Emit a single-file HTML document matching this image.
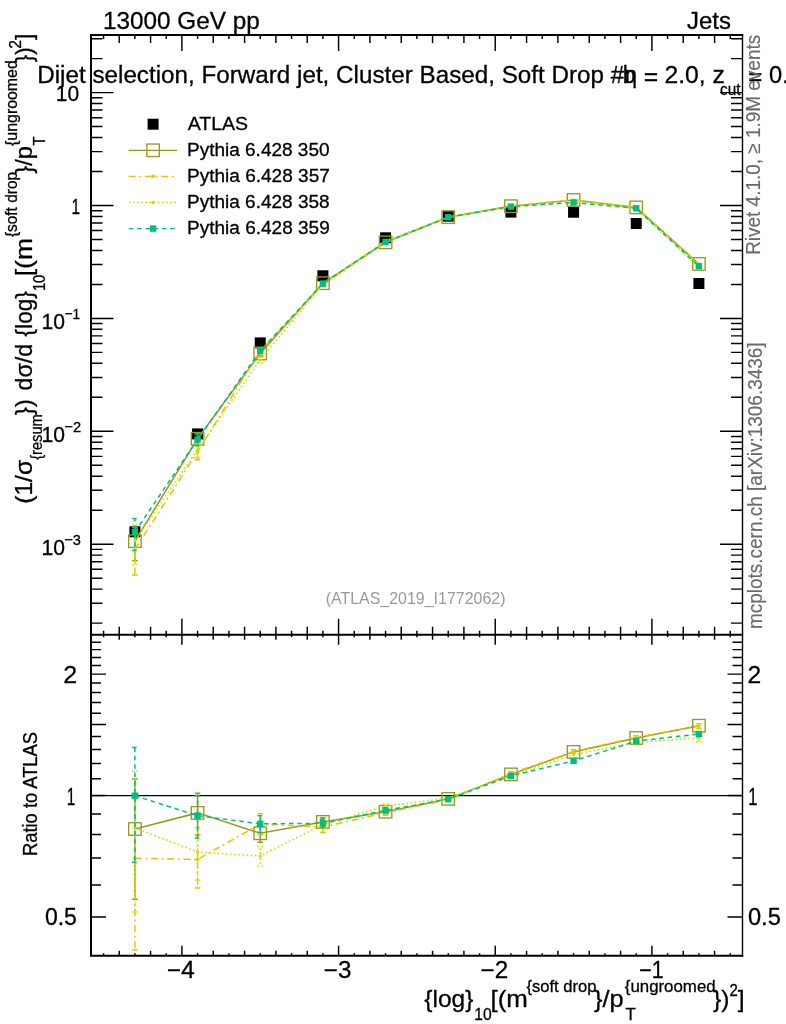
<!DOCTYPE html>
<html lang="en"><head><meta charset="utf-8"><title>ATLAS_2019_I1772062 soft drop</title>
<style>html,body{margin:0;padding:0;background:#fff}body{width:786px;height:1024px;overflow:hidden}svg{display:block}text{font-family:'Liberation Sans',sans-serif;fill:#000;stroke:#000;stroke-width:.3px}.g{fill:#6a6a6a;stroke:#6a6a6a;stroke-width:.15px}.h{fill:#999;stroke:none}</style>
</head><body>
<svg width="786" height="1024" viewBox="0 0 786 1024">
<rect width="786" height="1024" fill="#fff"/>
<defs><clipPath id="cm"><rect x="91.0" y="35.0" width="651.5" height="599.8"/></clipPath><clipPath id="cr"><rect x="91.0" y="634.8" width="651.5" height="320.95"/></clipPath></defs>
<g clip-path="url(#cm)">
<rect x="129.4" y="526.3" width="11.0" height="11.0" fill="#000"/>
<rect x="192.07" y="428.4" width="11.0" height="11.0" fill="#000"/>
<rect x="254.73" y="337.4" width="11.0" height="11.0" fill="#000"/>
<rect x="317.4" y="270.3" width="11.0" height="11.0" fill="#000"/>
<rect x="380.07" y="232.3" width="11.0" height="11.0" fill="#000"/>
<rect x="442.73" y="210.7" width="11.0" height="11.0" fill="#000"/>
<rect x="505.4" y="206.6" width="11.0" height="11.0" fill="#000"/>
<rect x="568.07" y="206.7" width="11.0" height="11.0" fill="#000"/>
<rect x="630.73" y="218" width="11.0" height="11.0" fill="#000"/>
<rect x="693.4" y="278" width="11.0" height="11.0" fill="#000"/>
<g fill="none" stroke="#99991f" stroke-width="1.5">
<path d="M134.9 541.18 L197.57 438.77 L260.23 353.48 L322.9 283.19 L385.57 242.34 L448.23 217.15 L510.9 206.19 L573.57 199.99 L636.23 207.4 L698.9 263.96"/>
<path d="M134.9 539.18L134.9 527.2M134.9 543.18L134.9 560.81"/>
<path d="M197.57 436.77L197.57 433.29M197.57 440.77L197.57 444.94"/>
<path d="M260.23 351.48L260.23 351.11M260.23 355.48L260.23 355.98"/>
<path d="M132.1 527.2h5.6M132.1 560.81h5.6M194.77 433.29h5.6M194.77 444.94h5.6M257.43 351.11h5.6M257.43 355.98h5.6"/>
</g>
<rect x="128.65" y="534.93" width="12.5" height="12.5" fill="none" stroke="#99991f" stroke-width="1.35"/>
<rect x="191.32" y="432.52" width="12.5" height="12.5" fill="none" stroke="#99991f" stroke-width="1.35"/>
<rect x="253.98" y="347.23" width="12.5" height="12.5" fill="none" stroke="#99991f" stroke-width="1.35"/>
<rect x="316.65" y="276.94" width="12.5" height="12.5" fill="none" stroke="#99991f" stroke-width="1.35"/>
<rect x="379.32" y="236.09" width="12.5" height="12.5" fill="none" stroke="#99991f" stroke-width="1.35"/>
<rect x="441.98" y="210.9" width="12.5" height="12.5" fill="none" stroke="#99991f" stroke-width="1.35"/>
<rect x="504.65" y="199.94" width="12.5" height="12.5" fill="none" stroke="#99991f" stroke-width="1.35"/>
<rect x="567.32" y="193.74" width="12.5" height="12.5" fill="none" stroke="#99991f" stroke-width="1.35"/>
<rect x="629.98" y="201.15" width="12.5" height="12.5" fill="none" stroke="#99991f" stroke-width="1.35"/>
<rect x="692.65" y="257.71" width="12.5" height="12.5" fill="none" stroke="#99991f" stroke-width="1.35"/>
<g fill="none" stroke="#e8c400" stroke-width="1.5">
<path d="M134.9 549.38 L197.57 451.82 L260.23 350.88 L322.9 284.62 L385.57 242.64 L448.23 217.43 L510.9 205.91 L573.57 199.88 L636.23 207.23 L698.9 264.1" stroke-dasharray="7 3.6 1.9 3.7"/>
<path d="M134.9 547.38L134.9 532.61M134.9 551.38L134.9 575.08" stroke-dasharray="7 3.6 1.9 3.7"/>
<path d="M197.57 449.82L197.57 444.97M197.57 453.82L197.57 459.78" stroke-dasharray="7 3.6 1.9 3.7"/>
<path d="M260.23 348.88L260.23 348.02M260.23 352.88L260.23 353.91" stroke-dasharray="7 3.6 1.9 3.7"/>
<path d="M132.1 532.61h5.6M132.1 575.08h5.6M194.77 444.97h5.6M194.77 459.78h5.6M257.43 348.02h5.6M257.43 353.91h5.6M320.1 283.12h5.6M320.1 286.17h5.6" stroke-dasharray="7 3.6 1.9 3.7"/>
</g>
<circle cx="134.9" cy="549.38" r="1.7" fill="#e8c400"/>
<circle cx="197.57" cy="451.82" r="1.7" fill="#e8c400"/>
<circle cx="260.23" cy="350.88" r="1.7" fill="#e8c400"/>
<circle cx="322.9" cy="284.62" r="1.7" fill="#e8c400"/>
<circle cx="385.57" cy="242.64" r="1.7" fill="#e8c400"/>
<circle cx="448.23" cy="217.43" r="1.7" fill="#e8c400"/>
<circle cx="510.9" cy="205.91" r="1.7" fill="#e8c400"/>
<circle cx="573.57" cy="199.88" r="1.7" fill="#e8c400"/>
<circle cx="636.23" cy="207.23" r="1.7" fill="#e8c400"/>
<circle cx="698.9" cy="264.1" r="1.7" fill="#e8c400"/>
<g fill="none" stroke="#bfe600" stroke-width="1.5">
<path d="M134.9 540.87 L197.57 449.72 L260.23 359.84 L322.9 283.95 L385.57 240.8 L448.23 216.87 L510.9 206.64 L573.57 200.75 L636.23 208.63 L698.9 267.35" stroke-dasharray="1.7 2.45"/>
<path d="M134.9 538.87L134.9 525.03M134.9 542.87L134.9 564.42" stroke-dasharray="1.7 2.45"/>
<path d="M197.57 447.72L197.57 442.93M197.57 451.72L197.57 457.6" stroke-dasharray="1.7 2.45"/>
<path d="M260.23 357.84L260.23 357.21M260.23 361.84L260.23 362.62" stroke-dasharray="1.7 2.45"/>
<path d="M132.1 525.03h5.6M132.1 564.42h5.6M194.77 442.93h5.6M194.77 457.6h5.6M257.43 357.21h5.6M257.43 362.62h5.6" stroke-dasharray="1.7 2.45"/>
</g>
<circle cx="134.9" cy="540.87" r="1.7" fill="#bfe600"/>
<circle cx="197.57" cy="449.72" r="1.7" fill="#bfe600"/>
<circle cx="260.23" cy="359.84" r="1.7" fill="#bfe600"/>
<circle cx="322.9" cy="283.95" r="1.7" fill="#bfe600"/>
<circle cx="385.57" cy="240.8" r="1.7" fill="#bfe600"/>
<circle cx="448.23" cy="216.87" r="1.7" fill="#bfe600"/>
<circle cx="510.9" cy="206.64" r="1.7" fill="#bfe600"/>
<circle cx="573.57" cy="200.75" r="1.7" fill="#bfe600"/>
<circle cx="636.23" cy="208.63" r="1.7" fill="#bfe600"/>
<circle cx="698.9" cy="267.35" r="1.7" fill="#bfe600"/>
<g fill="none" stroke="#00bf80" stroke-width="1.5">
<path d="M134.9 531.86 L197.57 439.56 L260.23 350.82 L322.9 283.58 L385.57 241.94 L448.23 217.24 L510.9 206.58 L573.57 202.51 L636.23 208.27 L698.9 266.28" stroke-dasharray="4.6 3.7"/>
<path d="M134.9 529.86L134.9 518.38M134.9 533.86L134.9 550.5" stroke-dasharray="4.6 3.7"/>
<path d="M197.57 437.56L197.57 433.99M197.57 441.56L197.57 445.83" stroke-dasharray="4.6 3.7"/>
<path d="M260.23 348.82L260.23 348.57M260.23 352.82L260.23 353.18" stroke-dasharray="4.6 3.7"/>
<path d="M132.1 518.38h5.6M132.1 550.5h5.6M194.77 433.99h5.6M194.77 445.83h5.6M257.43 348.57h5.6M257.43 353.18h5.6" stroke-dasharray="4.6 3.7"/>
</g>
<rect x="131.7" y="528.66" width="6.4" height="6.4" fill="#00bf80"/>
<rect x="194.37" y="436.36" width="6.4" height="6.4" fill="#00bf80"/>
<rect x="257.03" y="347.62" width="6.4" height="6.4" fill="#00bf80"/>
<rect x="319.7" y="280.38" width="6.4" height="6.4" fill="#00bf80"/>
<rect x="382.37" y="238.74" width="6.4" height="6.4" fill="#00bf80"/>
<rect x="445.03" y="214.04" width="6.4" height="6.4" fill="#00bf80"/>
<rect x="507.7" y="203.38" width="6.4" height="6.4" fill="#00bf80"/>
<rect x="570.37" y="199.31" width="6.4" height="6.4" fill="#00bf80"/>
<rect x="633.03" y="205.07" width="6.4" height="6.4" fill="#00bf80"/>
<rect x="695.7" y="263.08" width="6.4" height="6.4" fill="#00bf80"/>
</g>
<g clip-path="url(#cr)">
<line x1="91" y1="795.7" x2="742.5" y2="795.7" stroke="#000" stroke-width="1.3"/>
<g fill="none" stroke="#99991f" stroke-width="1.5">
<path d="M134.9 829 L197.57 812.9 L260.23 833.3 L322.9 821.9 L385.57 811.7 L448.23 798.9 L510.9 774.4 L573.57 751.9 L636.23 738 L698.9 725.7"/>
<path d="M134.9 827L134.9 779.06M134.9 831L134.9 899.13"/>
<path d="M197.57 810.9L197.57 793.34M197.57 814.9L197.57 834.93"/>
<path d="M260.23 831.3L260.23 824.82M260.23 835.3L260.23 842.22"/>
<path d="M322.9 819.9L322.9 817.87M322.9 823.9L322.9 826.02"/>
<path d="M385.57 809.7L385.57 809.41M385.57 813.7L385.57 814.02"/>
<path d="M132.1 779.06h5.6M132.1 899.13h5.6M194.77 793.34h5.6M194.77 834.93h5.6M257.43 824.82h5.6M257.43 842.22h5.6M320.1 817.87h5.6M320.1 826.02h5.6M382.77 809.41h5.6M382.77 814.02h5.6"/>
</g>
<rect x="128.65" y="822.75" width="12.5" height="12.5" fill="none" stroke="#99991f" stroke-width="1.35"/>
<rect x="191.32" y="806.65" width="12.5" height="12.5" fill="none" stroke="#99991f" stroke-width="1.35"/>
<rect x="253.98" y="827.05" width="12.5" height="12.5" fill="none" stroke="#99991f" stroke-width="1.35"/>
<rect x="316.65" y="815.65" width="12.5" height="12.5" fill="none" stroke="#99991f" stroke-width="1.35"/>
<rect x="379.32" y="805.45" width="12.5" height="12.5" fill="none" stroke="#99991f" stroke-width="1.35"/>
<rect x="441.98" y="792.65" width="12.5" height="12.5" fill="none" stroke="#99991f" stroke-width="1.35"/>
<rect x="504.65" y="768.15" width="12.5" height="12.5" fill="none" stroke="#99991f" stroke-width="1.35"/>
<rect x="567.32" y="745.65" width="12.5" height="12.5" fill="none" stroke="#99991f" stroke-width="1.35"/>
<rect x="629.98" y="731.75" width="12.5" height="12.5" fill="none" stroke="#99991f" stroke-width="1.35"/>
<rect x="692.65" y="719.45" width="12.5" height="12.5" fill="none" stroke="#99991f" stroke-width="1.35"/>
<g fill="none" stroke="#e8c400" stroke-width="1.5">
<path d="M134.9 858.3 L197.57 859.5 L260.23 824 L322.9 827 L385.57 812.8 L448.23 799.9 L510.9 773.4 L573.57 751.5 L636.23 737.4 L698.9 726.2" stroke-dasharray="7 3.6 1.9 3.7"/>
<path d="M134.9 856.3L134.9 798.38M134.9 860.3L134.9 950.09" stroke-dasharray="7 3.6 1.9 3.7"/>
<path d="M197.57 857.5L197.57 835.04M197.57 861.5L197.57 887.94" stroke-dasharray="7 3.6 1.9 3.7"/>
<path d="M260.23 822L260.23 813.79M260.23 826L260.23 834.84" stroke-dasharray="7 3.6 1.9 3.7"/>
<path d="M322.9 825L322.9 821.63M322.9 829L322.9 832.54" stroke-dasharray="7 3.6 1.9 3.7"/>
<path d="M385.57 810.8L385.57 810.5M385.57 814.8L385.57 815.14" stroke-dasharray="7 3.6 1.9 3.7"/>
<path d="M698.9 724.2L698.9 723.86M698.9 728.2L698.9 728.57" stroke-dasharray="7 3.6 1.9 3.7"/>
<path d="M132.1 798.38h5.6M132.1 950.09h5.6M194.77 835.04h5.6M194.77 887.94h5.6M257.43 813.79h5.6M257.43 834.84h5.6M320.1 821.63h5.6M320.1 832.54h5.6M382.77 810.5h5.6M382.77 815.14h5.6M508.1 771.86h5.6M508.1 774.95h5.6M570.77 749.87h5.6M570.77 753.14h5.6M633.43 735.65h5.6M633.43 739.17h5.6M696.1 723.86h5.6M696.1 728.57h5.6" stroke-dasharray="7 3.6 1.9 3.7"/>
</g>
<circle cx="134.9" cy="858.3" r="1.7" fill="#e8c400"/>
<circle cx="197.57" cy="859.5" r="1.7" fill="#e8c400"/>
<circle cx="260.23" cy="824" r="1.7" fill="#e8c400"/>
<circle cx="322.9" cy="827" r="1.7" fill="#e8c400"/>
<circle cx="385.57" cy="812.8" r="1.7" fill="#e8c400"/>
<circle cx="448.23" cy="799.9" r="1.7" fill="#e8c400"/>
<circle cx="510.9" cy="773.4" r="1.7" fill="#e8c400"/>
<circle cx="573.57" cy="751.5" r="1.7" fill="#e8c400"/>
<circle cx="636.23" cy="737.4" r="1.7" fill="#e8c400"/>
<circle cx="698.9" cy="726.2" r="1.7" fill="#e8c400"/>
<g fill="none" stroke="#bfe600" stroke-width="1.5">
<path d="M134.9 827.9 L197.57 852 L260.23 856 L322.9 824.6 L385.57 806.2 L448.23 797.9 L510.9 776 L573.57 754.6 L636.23 742.4 L698.9 737.8" stroke-dasharray="1.7 2.45"/>
<path d="M134.9 825.9L134.9 771.31M134.9 829.9L134.9 912.03" stroke-dasharray="1.7 2.45"/>
<path d="M197.57 850L197.57 827.76M197.57 854L197.57 880.14" stroke-dasharray="1.7 2.45"/>
<path d="M260.23 854L260.23 846.61M260.23 858L260.23 865.92" stroke-dasharray="1.7 2.45"/>
<path d="M322.9 822.6L322.9 820.51M322.9 826.6L322.9 828.79" stroke-dasharray="1.7 2.45"/>
<path d="M385.57 804.2L385.57 803.98M385.57 808.2L385.57 808.45" stroke-dasharray="1.7 2.45"/>
<path d="M698.9 735.8L698.9 733.69M698.9 739.8L698.9 742.01" stroke-dasharray="1.7 2.45"/>
<path d="M132.1 771.31h5.6M132.1 912.03h5.6M194.77 827.76h5.6M194.77 880.14h5.6M257.43 846.61h5.6M257.43 865.92h5.6M320.1 820.51h5.6M320.1 828.79h5.6M382.77 803.98h5.6M382.77 808.45h5.6M633.43 740.85h5.6M633.43 743.96h5.6M696.1 733.69h5.6M696.1 742.01h5.6" stroke-dasharray="1.7 2.45"/>
</g>
<circle cx="134.9" cy="827.9" r="1.7" fill="#bfe600"/>
<circle cx="197.57" cy="852" r="1.7" fill="#bfe600"/>
<circle cx="260.23" cy="856" r="1.7" fill="#bfe600"/>
<circle cx="322.9" cy="824.6" r="1.7" fill="#bfe600"/>
<circle cx="385.57" cy="806.2" r="1.7" fill="#bfe600"/>
<circle cx="448.23" cy="797.9" r="1.7" fill="#bfe600"/>
<circle cx="510.9" cy="776" r="1.7" fill="#bfe600"/>
<circle cx="573.57" cy="754.6" r="1.7" fill="#bfe600"/>
<circle cx="636.23" cy="742.4" r="1.7" fill="#bfe600"/>
<circle cx="698.9" cy="737.8" r="1.7" fill="#bfe600"/>
<g fill="none" stroke="#00bf80" stroke-width="1.5">
<path d="M134.9 795.7 L197.57 815.7 L260.23 823.8 L322.9 823.3 L385.57 810.3 L448.23 799.2 L510.9 775.8 L573.57 760.9 L636.23 741.1 L698.9 734" stroke-dasharray="4.6 3.7"/>
<path d="M134.9 793.7L134.9 747.56M134.9 797.7L134.9 862.31" stroke-dasharray="4.6 3.7"/>
<path d="M197.57 813.7L197.57 795.84M197.57 817.7L197.57 838.11" stroke-dasharray="4.6 3.7"/>
<path d="M260.23 821.8L260.23 815.75M260.23 825.8L260.23 832.23" stroke-dasharray="4.6 3.7"/>
<path d="M322.9 821.3L322.9 819.24M322.9 825.3L322.9 827.45" stroke-dasharray="4.6 3.7"/>
<path d="M385.57 808.3L385.57 808.03M385.57 812.3L385.57 812.6" stroke-dasharray="4.6 3.7"/>
<path d="M132.1 747.56h5.6M132.1 862.31h5.6M194.77 795.84h5.6M194.77 838.11h5.6M257.43 815.75h5.6M257.43 832.23h5.6M320.1 819.24h5.6M320.1 827.45h5.6M382.77 808.03h5.6M382.77 812.6h5.6" stroke-dasharray="4.6 3.7"/>
</g>
<rect x="131.7" y="792.5" width="6.4" height="6.4" fill="#00bf80"/>
<rect x="194.37" y="812.5" width="6.4" height="6.4" fill="#00bf80"/>
<rect x="257.03" y="820.6" width="6.4" height="6.4" fill="#00bf80"/>
<rect x="319.7" y="820.1" width="6.4" height="6.4" fill="#00bf80"/>
<rect x="382.37" y="807.1" width="6.4" height="6.4" fill="#00bf80"/>
<rect x="445.03" y="796" width="6.4" height="6.4" fill="#00bf80"/>
<rect x="507.7" y="772.6" width="6.4" height="6.4" fill="#00bf80"/>
<rect x="570.37" y="757.7" width="6.4" height="6.4" fill="#00bf80"/>
<rect x="633.03" y="737.9" width="6.4" height="6.4" fill="#00bf80"/>
<rect x="695.7" y="730.8" width="6.4" height="6.4" fill="#00bf80"/>
</g>
<path d="M103.57 35L103.57 39M103.57 630.8L103.57 637.3M103.57 955.75L103.57 953.25M119.23 35L119.23 43M119.23 626.8L119.23 639.8M119.23 955.75L119.23 950.75M134.9 35L134.9 39M134.9 630.8L134.9 637.3M134.9 955.75L134.9 953.25M150.57 35L150.57 43M150.57 626.8L150.57 639.8M150.57 955.75L150.57 950.75M166.23 35L166.23 39M166.23 630.8L166.23 637.3M166.23 955.75L166.23 953.25M181.9 35L181.9 51M181.9 618.8L181.9 644.8M181.9 955.75L181.9 945.75M197.57 35L197.57 39M197.57 630.8L197.57 637.3M197.57 955.75L197.57 953.25M213.23 35L213.23 43M213.23 626.8L213.23 639.8M213.23 955.75L213.23 950.75M228.9 35L228.9 39M228.9 630.8L228.9 637.3M228.9 955.75L228.9 953.25M244.57 35L244.57 43M244.57 626.8L244.57 639.8M244.57 955.75L244.57 950.75M260.23 35L260.23 39M260.23 630.8L260.23 637.3M260.23 955.75L260.23 953.25M275.9 35L275.9 43M275.9 626.8L275.9 639.8M275.9 955.75L275.9 950.75M291.57 35L291.57 39M291.57 630.8L291.57 637.3M291.57 955.75L291.57 953.25M307.23 35L307.23 43M307.23 626.8L307.23 639.8M307.23 955.75L307.23 950.75M322.9 35L322.9 39M322.9 630.8L322.9 637.3M322.9 955.75L322.9 953.25M338.57 35L338.57 51M338.57 618.8L338.57 644.8M338.57 955.75L338.57 945.75M354.23 35L354.23 39M354.23 630.8L354.23 637.3M354.23 955.75L354.23 953.25M369.9 35L369.9 43M369.9 626.8L369.9 639.8M369.9 955.75L369.9 950.75M385.57 35L385.57 39M385.57 630.8L385.57 637.3M385.57 955.75L385.57 953.25M401.23 35L401.23 43M401.23 626.8L401.23 639.8M401.23 955.75L401.23 950.75M416.9 35L416.9 39M416.9 630.8L416.9 637.3M416.9 955.75L416.9 953.25M432.57 35L432.57 43M432.57 626.8L432.57 639.8M432.57 955.75L432.57 950.75M448.23 35L448.23 39M448.23 630.8L448.23 637.3M448.23 955.75L448.23 953.25M463.9 35L463.9 43M463.9 626.8L463.9 639.8M463.9 955.75L463.9 950.75M479.57 35L479.57 39M479.57 630.8L479.57 637.3M479.57 955.75L479.57 953.25M495.23 35L495.23 51M495.23 618.8L495.23 644.8M495.23 955.75L495.23 945.75M510.9 35L510.9 39M510.9 630.8L510.9 637.3M510.9 955.75L510.9 953.25M526.57 35L526.57 43M526.57 626.8L526.57 639.8M526.57 955.75L526.57 950.75M542.23 35L542.23 39M542.23 630.8L542.23 637.3M542.23 955.75L542.23 953.25M557.9 35L557.9 43M557.9 626.8L557.9 639.8M557.9 955.75L557.9 950.75M573.57 35L573.57 39M573.57 630.8L573.57 637.3M573.57 955.75L573.57 953.25M589.23 35L589.23 43M589.23 626.8L589.23 639.8M589.23 955.75L589.23 950.75M604.9 35L604.9 39M604.9 630.8L604.9 637.3M604.9 955.75L604.9 953.25M620.57 35L620.57 43M620.57 626.8L620.57 639.8M620.57 955.75L620.57 950.75M636.23 35L636.23 39M636.23 630.8L636.23 637.3M636.23 955.75L636.23 953.25M651.9 35L651.9 51M651.9 618.8L651.9 644.8M651.9 955.75L651.9 945.75M667.57 35L667.57 39M667.57 630.8L667.57 637.3M667.57 955.75L667.57 953.25M683.23 35L683.23 43M683.23 626.8L683.23 639.8M683.23 955.75L683.23 950.75M698.9 35L698.9 39M698.9 630.8L698.9 637.3M698.9 955.75L698.9 953.25M714.57 35L714.57 43M714.57 626.8L714.57 639.8M714.57 955.75L714.57 950.75M730.23 35L730.23 39M730.23 630.8L730.23 637.3M730.23 955.75L730.23 953.25M91 623.11L102.5 623.11M742.5 623.11L731 623.11M91 603.23L102.5 603.23M742.5 603.23L731 603.23M91 589.13L102.5 589.13M742.5 589.13L731 589.13M91 578.19L102.5 578.19M742.5 578.19L731 578.19M91 569.25L102.5 569.25M742.5 569.25L731 569.25M91 561.69L102.5 561.69M742.5 561.69L731 561.69M91 555.14L102.5 555.14M742.5 555.14L731 555.14M91 549.37L102.5 549.37M742.5 549.37L731 549.37M91 544.2L113.5 544.2M742.5 544.2L720 544.2M91 510.21L102.5 510.21M742.5 510.21L731 510.21M91 490.33L102.5 490.33M742.5 490.33L731 490.33M91 476.23L102.5 476.23M742.5 476.23L731 476.23M91 465.29L102.5 465.29M742.5 465.29L731 465.29M91 456.35L102.5 456.35M742.5 456.35L731 456.35M91 448.79L102.5 448.79M742.5 448.79L731 448.79M91 442.24L102.5 442.24M742.5 442.24L731 442.24M91 436.47L102.5 436.47M742.5 436.47L731 436.47M91 431.3L113.5 431.3M742.5 431.3L720 431.3M91 397.31L102.5 397.31M742.5 397.31L731 397.31M91 377.43L102.5 377.43M742.5 377.43L731 377.43M91 363.33L102.5 363.33M742.5 363.33L731 363.33M91 352.39L102.5 352.39M742.5 352.39L731 352.39M91 343.45L102.5 343.45M742.5 343.45L731 343.45M91 335.89L102.5 335.89M742.5 335.89L731 335.89M91 329.34L102.5 329.34M742.5 329.34L731 329.34M91 323.57L102.5 323.57M742.5 323.57L731 323.57M91 318.4L113.5 318.4M742.5 318.4L720 318.4M91 284.41L102.5 284.41M742.5 284.41L731 284.41M91 264.53L102.5 264.53M742.5 264.53L731 264.53M91 250.43L102.5 250.43M742.5 250.43L731 250.43M91 239.49L102.5 239.49M742.5 239.49L731 239.49M91 230.55L102.5 230.55M742.5 230.55L731 230.55M91 222.99L102.5 222.99M742.5 222.99L731 222.99M91 216.44L102.5 216.44M742.5 216.44L731 216.44M91 210.67L102.5 210.67M742.5 210.67L731 210.67M91 205.5L113.5 205.5M742.5 205.5L720 205.5M91 171.51L102.5 171.51M742.5 171.51L731 171.51M91 151.63L102.5 151.63M742.5 151.63L731 151.63M91 137.53L102.5 137.53M742.5 137.53L731 137.53M91 126.59L102.5 126.59M742.5 126.59L731 126.59M91 117.65L102.5 117.65M742.5 117.65L731 117.65M91 110.09L102.5 110.09M742.5 110.09L731 110.09M91 103.54L102.5 103.54M742.5 103.54L731 103.54M91 97.77L102.5 97.77M742.5 97.77L731 97.77M91 92.6L113.5 92.6M742.5 92.6L720 92.6M91 58.61L102.5 58.61M742.5 58.61L731 58.61M91 38.73L102.5 38.73M742.5 38.73L731 38.73M91 916.9L106 916.9M742.5 916.9L727.5 916.9M91 884.97L101 884.97M742.5 884.97L732.5 884.97M91 857.97L101 857.97M742.5 857.97L732.5 857.97M91 834.58L101 834.58M742.5 834.58L732.5 834.58M91 813.95L101 813.95M742.5 813.95L732.5 813.95M91 795.5L106 795.5M742.5 795.5L727.5 795.5M91 778.81L101 778.81M742.5 778.81L732.5 778.81M91 763.57L101 763.57M742.5 763.57L732.5 763.57M91 749.55L101 749.55M742.5 749.55L732.5 749.55M91 736.57L101 736.57M742.5 736.57L732.5 736.57M91 724.49L106 724.49M742.5 724.49L727.5 724.49M91 713.18L101 713.18M742.5 713.18L732.5 713.18M91 702.56L101 702.56M742.5 702.56L732.5 702.56M91 692.55L101 692.55M742.5 692.55L732.5 692.55M91 683.08L101 683.08M742.5 683.08L732.5 683.08M91 674.1L106 674.1M742.5 674.1L727.5 674.1M91 665.55L101 665.55M742.5 665.55L732.5 665.55M91 657.41L101 657.41M742.5 657.41L732.5 657.41M91 649.62L101 649.62M742.5 649.62L732.5 649.62M91 642.17L101 642.17M742.5 642.17L732.5 642.17" stroke="#000" stroke-width="1.45" fill="none"/>
<path d="M743.2 35.0H91.0V955.75H743.2M91.0 634.8H743.2" fill="none" stroke="#000" stroke-width="2" stroke-linecap="butt" stroke-linejoin="miter"/>
<line x1="742.5" y1="34" x2="742.5" y2="956.75" stroke="#000" stroke-width="1.4"/>
<rect x="147.6" y="118.7" width="11.0" height="11.0" fill="#000"/>
<line x1="128.7" y1="150.3" x2="177" y2="150.3" stroke="#99991f" stroke-width="1.35"/>
<rect x="146.85" y="144.05" width="12.5" height="12.5" fill="none" stroke="#99991f" stroke-width="1.35"/>
<line x1="128.7" y1="176.3" x2="177" y2="176.3" stroke="#e8c400" stroke-width="1.35" stroke-dasharray="7 3.6 1.9 3.7"/>
<circle cx="153.1" cy="176.3" r="1.7" fill="#e8c400"/>
<line x1="128.7" y1="202.4" x2="177" y2="202.4" stroke="#bfe600" stroke-width="1.35" stroke-dasharray="1.7 2.45"/>
<circle cx="153.1" cy="202.4" r="1.7" fill="#bfe600"/>
<line x1="128.7" y1="228.6" x2="177" y2="228.6" stroke="#00bf80" stroke-width="1.35" stroke-dasharray="4.6 3.7"/>
<rect x="149.9" y="225.4" width="6.4" height="6.4" fill="#00bf80"/>
<text x="187.7" y="129.8" font-size="19.2" textLength="60.46" lengthAdjust="spacingAndGlyphs">ATLAS</text>
<text x="186.98" y="155.9" font-size="19.2" textLength="142.6" lengthAdjust="spacingAndGlyphs">Pythia 6.428 350</text>
<text x="186.98" y="181.9" font-size="19.2" textLength="142.89" lengthAdjust="spacingAndGlyphs">Pythia 6.428 357</text>
<text x="186.98" y="208" font-size="19.2" textLength="142.7" lengthAdjust="spacingAndGlyphs">Pythia 6.428 358</text>
<text x="186.98" y="234.2" font-size="19.2" textLength="142.8" lengthAdjust="spacingAndGlyphs">Pythia 6.428 359</text>
<text x="102.98" y="29.3" font-size="24.6" textLength="156.69" lengthAdjust="spacingAndGlyphs">13000 GeV pp</text>
<text x="687.04" y="29" font-size="24.6" textLength="43.97" lengthAdjust="spacingAndGlyphs">Jets</text>
<text x="37.26" y="82.7" font-size="24.6" textLength="586.93" lengthAdjust="spacingAndGlyphs">Dijet selection, Forward jet, Cluster Based, Soft Drop #</text>
<text x="622.7" y="82.7" font-size="24.6" textLength="12.85" lengthAdjust="spacingAndGlyphs">b</text>
<text x="625.12" y="82.7" font-size="24.6" textLength="12.01" lengthAdjust="spacingAndGlyphs">η</text>
<text x="643.76" y="85.2" font-size="24.6" textLength="14.45" lengthAdjust="spacingAndGlyphs">=</text>
<text x="664.47" y="82.7" font-size="24.6" textLength="60.39" lengthAdjust="spacingAndGlyphs">2.0, z</text>
<text x="720.09" y="94.8" font-size="17" textLength="20.45" lengthAdjust="spacingAndGlyphs">cut</text>
<text x="748.19" y="85.2" font-size="24.6" textLength="14.09" lengthAdjust="spacingAndGlyphs">=</text>
<text x="769.05" y="83" font-size="24.6" textLength="19.78" lengthAdjust="spacingAndGlyphs">0.</text>
<text x="325.64" y="604" font-size="16.5" textLength="179.86" lengthAdjust="spacingAndGlyphs" class="h">(ATLAS_2019_I1772062)</text>
<text transform="translate(759.9,253.3) rotate(-90)" x="-1.52" y="0" font-size="19.6" textLength="219.98" lengthAdjust="spacingAndGlyphs" class="g">Rivet 4.1.0, ≥ 1.9M events</text>
<text transform="translate(762,627.8) rotate(-90)" x="-1.23" y="0" font-size="19.6" textLength="286.64" lengthAdjust="spacingAndGlyphs" class="g">mcplots.cern.ch [arXiv:1306.3436]</text>
<text x="167.04" y="977.7" font-size="23.6" textLength="27.64" lengthAdjust="spacingAndGlyphs">−4</text>
<text x="323.83" y="977.7" font-size="23.6" textLength="27.64" lengthAdjust="spacingAndGlyphs">−3</text>
<text x="480.61" y="977.7" font-size="23.6" textLength="27.64" lengthAdjust="spacingAndGlyphs">−2</text>
<text x="639.33" y="977.7" font-size="23.6" textLength="24.44" lengthAdjust="spacingAndGlyphs">−1</text>
<text x="55.72" y="101.4" font-size="22.7" textLength="23.36" lengthAdjust="spacingAndGlyphs">10</text>
<text x="71.54" y="214.1" font-size="22.8" textLength="8.57" lengthAdjust="spacingAndGlyphs">1</text>
<text x="41.42" y="329" font-size="22.4" textLength="23.47" lengthAdjust="spacingAndGlyphs">10</text>
<text x="64.42" y="319.2" font-size="15.5" textLength="15.6" lengthAdjust="spacingAndGlyphs">−1</text>
<text x="41.42" y="441.9" font-size="22.4" textLength="23.47" lengthAdjust="spacingAndGlyphs">10</text>
<text x="64.36" y="432.1" font-size="15.5" textLength="16.77" lengthAdjust="spacingAndGlyphs">−2</text>
<text x="41.42" y="554.8" font-size="22.4" textLength="23.47" lengthAdjust="spacingAndGlyphs">10</text>
<text x="64.37" y="545" font-size="15.5" textLength="16.61" lengthAdjust="spacingAndGlyphs">−3</text>
<text x="63.35" y="683.1" font-size="24.1" textLength="13.93" lengthAdjust="spacingAndGlyphs">2</text>
<text x="66.74" y="804.8" font-size="24.1" textLength="8.57" lengthAdjust="spacingAndGlyphs">1</text>
<text x="44.88" y="925.4" font-size="24.1" textLength="32.05" lengthAdjust="spacingAndGlyphs">0.5</text>
<text x="747.47" y="683" font-size="24.1" textLength="13.69" lengthAdjust="spacingAndGlyphs">2</text>
<text x="748.26" y="804.8" font-size="24.1" textLength="9.21" lengthAdjust="spacingAndGlyphs">1</text>
<text x="747.95" y="925.4" font-size="24.1" textLength="32.9" lengthAdjust="spacingAndGlyphs">0.5</text>
<text transform="translate(36.7,854.5) rotate(-90)" x="-1.47" y="0" font-size="20" textLength="123.94" lengthAdjust="spacingAndGlyphs">Ratio to ATLAS</text>
<text x="424.33" y="1007.1" font-size="24.5" textLength="49.1" lengthAdjust="spacingAndGlyphs">{log}</text>
<text x="474.22" y="1020.4" font-size="17" textLength="17.46" lengthAdjust="spacingAndGlyphs">10</text>
<text x="490.49" y="1007.1" font-size="24.5" textLength="37.37" lengthAdjust="spacingAndGlyphs">[(m</text>
<text x="526.45" y="991.5" font-size="17" textLength="70.01" lengthAdjust="spacingAndGlyphs">{soft drop</text>
<text x="594.02" y="1007.1" font-size="24.5" textLength="29.67" lengthAdjust="spacingAndGlyphs">}/p</text>
<text x="625.46" y="1020.4" font-size="17" textLength="10.29" lengthAdjust="spacingAndGlyphs">T</text>
<text x="624.75" y="991.5" font-size="17" textLength="90.9" lengthAdjust="spacingAndGlyphs">{ungroomed</text>
<text x="712.93" y="1007.1" font-size="24.5" textLength="16.39" lengthAdjust="spacingAndGlyphs">})</text>
<text x="729.45" y="995.6" font-size="17" textLength="8.31" lengthAdjust="spacingAndGlyphs">2</text>
<text x="737.78" y="1007.1" font-size="24.5" textLength="6.81" lengthAdjust="spacingAndGlyphs">]</text>
<text transform="translate(31.8,502.3) rotate(-90)" x="-1.48" y="0" font-size="24.5" textLength="43.93" lengthAdjust="spacingAndGlyphs">(1/σ</text>
<text transform="translate(42.3,459.6) rotate(-90)" x="-0.22" y="0" font-size="17" textLength="45.64" lengthAdjust="spacingAndGlyphs">{resum</text>
<text transform="translate(31.8,415) rotate(-90)" x="-0.36" y="0" font-size="24.5" textLength="16.17" lengthAdjust="spacingAndGlyphs">})</text>
<text transform="translate(31.8,389.5) rotate(-90)" x="-0.93" y="0" font-size="24.5" textLength="46.59" lengthAdjust="spacingAndGlyphs">dσ/d</text>
<text transform="translate(31.8,336.1) rotate(-90)" x="-0.34" y="0" font-size="24.5" textLength="45.23" lengthAdjust="spacingAndGlyphs">{log}</text>
<text transform="translate(45.1,290) rotate(-90)" x="-1.11" y="0" font-size="17" textLength="16.46" lengthAdjust="spacingAndGlyphs">10</text>
<text transform="translate(31.8,274.4) rotate(-90)" x="-1.85" y="0" font-size="24.5" textLength="38.25" lengthAdjust="spacingAndGlyphs">[(m</text>
<text transform="translate(16.6,236.9) rotate(-90)" x="-0.23" y="0" font-size="17" textLength="65.15" lengthAdjust="spacingAndGlyphs">{soft drop</text>
<text transform="translate(31.8,173.4) rotate(-90)" x="-0.36" y="0" font-size="24.5" textLength="27.67" lengthAdjust="spacingAndGlyphs">}/p</text>
<text transform="translate(45.1,145.1) rotate(-90)" x="-0.29" y="0" font-size="17" textLength="9" lengthAdjust="spacingAndGlyphs">T</text>
<text transform="translate(16.6,145.7) rotate(-90)" x="-0.24" y="0" font-size="17" textLength="85.72" lengthAdjust="spacingAndGlyphs">{ungroomed</text>
<text transform="translate(31.8,62) rotate(-90)" x="-0.34" y="0" font-size="24.5" textLength="14.92" lengthAdjust="spacingAndGlyphs">})</text>
<text transform="translate(20.6,48) rotate(-90)" x="-0.78" y="0" font-size="17" textLength="8.68" lengthAdjust="spacingAndGlyphs">2</text>
<text transform="translate(31.8,39.8) rotate(-90)" x="-0.12" y="0" font-size="24.5" textLength="6.53" lengthAdjust="spacingAndGlyphs">]</text>
</svg></body></html>
